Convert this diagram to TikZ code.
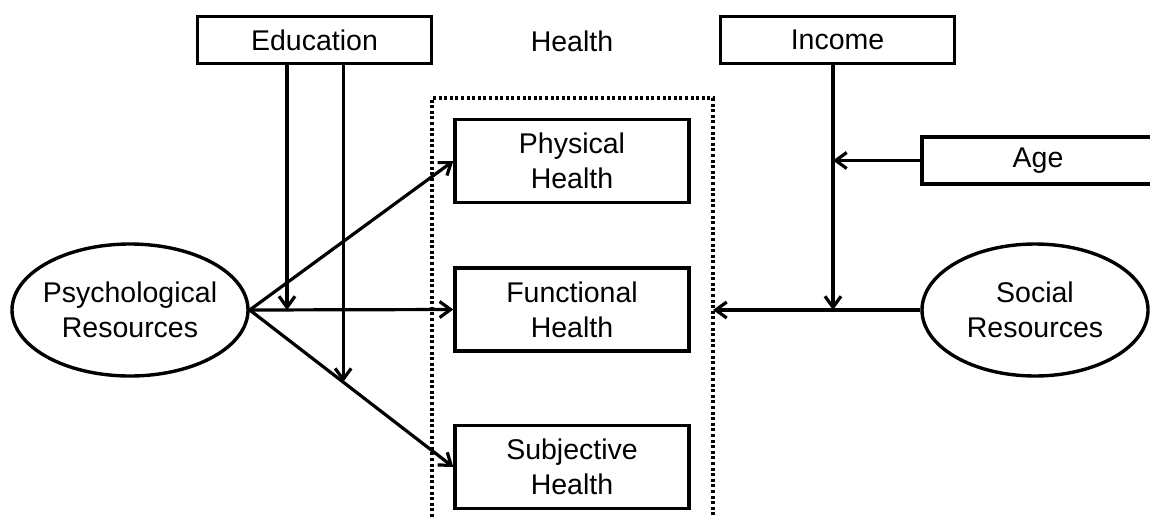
\documentclass[tikz,border=0pt]{standalone}
\usepackage{fontspec}
\setmainfont{Liberation Sans}
\usetikzlibrary{shapes.geometric,arrows.meta}

\begin{document}
\begin{tikzpicture}[x=1pt,y=-1pt,
  font=\fontsize{28.5}{35}\selectfont,
  every node/.style={inner sep=0pt, align=center},
  varbox/.style={draw, line width=3.4pt, minimum width=234pt, minimum height=47pt},
  healthbox/.style={draw, line width=3.4pt, minimum width=234pt, minimum height=83pt},
  resource/.style={draw, ellipse, line width=3.4pt, inner xsep=-5pt},
  groupframe/.style={draw, line width=3.4pt, dash pattern=on 3pt off 2.6pt},
  link/.style={line width=3.2pt, -{Straight Barb[length=11pt,width=16pt,line width=3.2pt]}}
]
\useasboundingbox (0,0) rectangle (1150,517);

% moderator boxes along the top
\node[varbox] (edu) at (314.5,40) {Education};
\node[varbox] (inc) at (837.5,40) {Income};
\node (hlabel) at (572,41) {Health};
\node[varbox, minimum width=232pt] (age) at (1038,160.5) {Age};

% frame around the health outcomes (open at the bottom)
\draw[groupframe] (432,517) -- (432,98) coordinate (hbtl) -- (713,98) coordinate (hbtr) -- (713,517) coordinate (hbbr);

% health outcomes
\node[healthbox] (phys) at (572,161) {Physical\\Health};
\node[healthbox] (func) at (572,309.5) {Functional\\Health};
\node[healthbox] (subj) at (572,467) {Subjective\\Health};

% resources
\node[resource, minimum width=236pt, minimum height=132pt] (psych) at (130,310) {Psychological\\Resources};
\node[resource, minimum width=226pt, minimum height=132pt] (soc) at (1035,310) {Social\\Resources};

% points where moderators meet the paths
\coordinate (m1) at (287,310);
\path (psych.east) -- (subj.west) coordinate[pos=0.459] (m2);
\coordinate (m3) at (833,310);

% direct paths
\draw[link] (psych.east) -- (phys.west);
\draw[link] (psych.east) -- (func.west);
\draw[link] (psych.east) -- (subj.west);
\draw[link] (soc.west) -- (soc.west -| hbbr);

% moderation paths
\draw[link] (edu.south -| m1) -- (m1);
\draw[link] (edu.south -| m2) -- (m2);
\draw[link] (inc.south -| m3) -- (m3);
\draw[link] (age.west) -- (age.west -| m3);
\end{tikzpicture}
\end{document}
